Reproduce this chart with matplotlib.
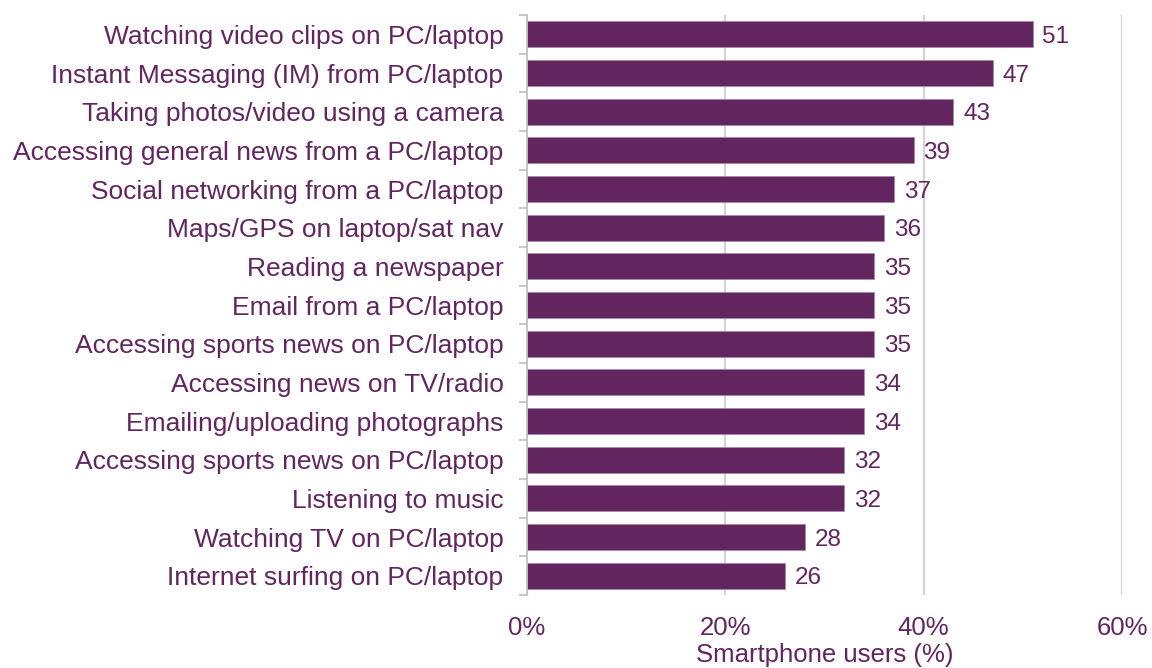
import matplotlib
matplotlib.use("Agg")
import matplotlib.pyplot as plt
from matplotlib.ticker import FixedLocator

categories = [
    "Watching video clips on PC/laptop",
    "Instant Messaging (IM) from PC/laptop",
    "Taking photos/video using a camera",
    "Accessing general news from a PC/laptop",
    "Social networking from a PC/laptop",
    "Maps/GPS on laptop/sat nav",
    "Reading a newspaper",
    "Email from a PC/laptop",
    "Accessing sports news on PC/laptop",
    "Accessing news on TV/radio",
    "Emailing/uploading photographs",
    "Accessing sports news on PC/laptop",
    "Listening to music",
    "Watching TV on PC/laptop",
    "Internet surfing on PC/laptop",
]
values = [51, 47, 43, 39, 37, 36, 35, 35, 35, 34, 34, 32, 32, 28, 26]
x_ticks = [0, 20, 40, 60]
x_tick_labels = ["0%", "20%", "40%", "60%"]

purple = "#62255f"
grid_gray = "#d4d4d4"

plt.rcParams["font.family"] = ["Liberation Sans", "DejaVu Sans"]

fig = plt.figure(figsize=(11.52, 6.68), dpi=100)
ax = fig.add_axes([527 / 1152, 1 - 595 / 668, (1122 - 527) / 1152, (595 - 15) / 668])

pos = list(range(len(categories)))
ax.barh(pos, values, height=0.68, color=purple, edgecolor="#a88aa6",
        linewidth=0.6, zorder=3)

for p, v in zip(pos, values):
    ax.annotate(f"{v}", xy=(v, p), xytext=(7, -2), textcoords="offset points",
                va="center", ha="left", fontsize=17.5, color=purple, zorder=4)

ax.set_xlim(0, 60)
ax.set_ylim(len(categories) - 0.5, -0.5)

ax.set_xticks(x_ticks)
ax.set_xticklabels(x_tick_labels, fontsize=18.5, color=purple)
ax.tick_params(axis="x", length=0, pad=15)

ax.set_yticks(pos)
ax.set_yticklabels(categories, fontsize=19, color=purple)
ax.tick_params(axis="y", which="major", length=0, pad=17)
ax.yaxis.set_minor_locator(FixedLocator([p - 0.5 for p in pos] + [len(pos) - 0.5]))
ax.tick_params(axis="y", which="minor", length=6, width=1.2, color="#bfbfbf")

ax.xaxis.grid(True, color=grid_gray, linewidth=1.6, zorder=0)
ax.set_axisbelow(True)

for side in ["top", "right", "bottom"]:
    ax.spines[side].set_visible(False)
ax.spines["left"].set_color("#bfbfbf")
ax.spines["left"].set_linewidth(1.2)
ax.spines["left"].set_zorder(5)

# Axis title sits flush with the lower edge of the figure
ax.set_xlabel("Smartphone users (%)", fontsize=18.5, color=purple)
ax.xaxis.set_label_coords(0.5, -(667 - 595) / 580)
ax.xaxis.label.set_va("bottom")

fig.savefig("out.png", dpi=100)
